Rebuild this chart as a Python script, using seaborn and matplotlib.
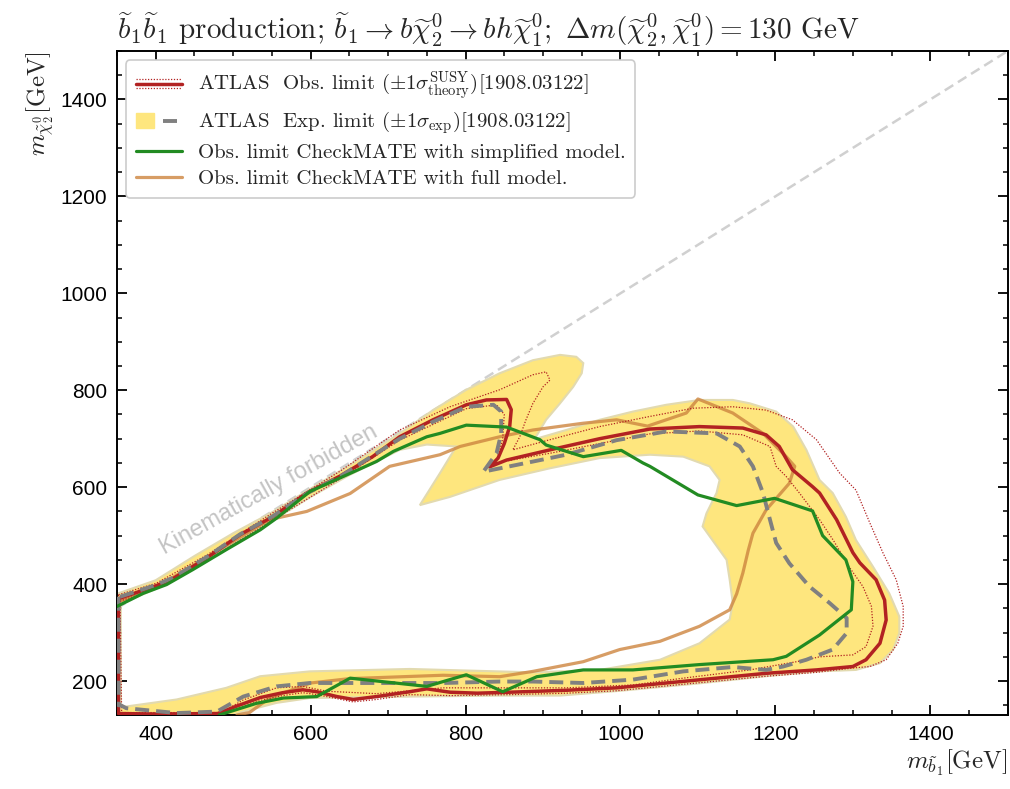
import numpy as np
import pandas as pd
import matplotlib
matplotlib.use("Agg")
import matplotlib.pyplot as plt
import seaborn as sns
from matplotlib.path import Path
from matplotlib.patches import PathPatch, Patch
from matplotlib.lines import Line2D
from matplotlib.legend_handler import HandlerBase, HandlerTuple
from matplotlib.ticker import MultipleLocator

# ---------------- data (GeV) ----------------
# ATLAS observed limit (closed contour)
obs_x = [352, 352, 400, 480, 504, 535, 564, 590, 608, 634, 655, 685, 728, 750, 780, 815, 857, 930, 995,
         1059, 1124, 1188, 1253, 1300, 1317, 1335, 1343, 1341, 1330, 1309, 1300, 1279, 1257, 1248, 1222,
         1205, 1188, 1158, 1102, 1038, 973, 909, 853, 831, 842, 850, 857, 859, 853, 827, 801, 758, 715,
         680, 638, 595, 551, 509, 466, 422, 401, 354, 352]
obs_y = [370, 133, 132, 133, 148, 166, 176, 182, 178, 168, 162, 168, 178, 184, 177, 175, 177, 181, 186,
         196, 206, 216, 223, 230, 244, 278, 326, 367, 409, 444, 465, 533, 588, 601, 636,
         684, 708, 722, 725, 720, 700, 677, 656, 642, 660, 690, 725, 760, 781, 780, 770, 739, 704,
         663, 623, 588, 539, 502, 454, 411, 397, 371, 370]

# ATLAS observed -1 sigma theory (outer dotted)
obs_dn_x = [352, 401, 466, 551, 638, 715, 780, 844, 887, 904, 909, 900, 887, 878, 870, 861, 909, 973,
            1038, 1094, 1145, 1188, 1222, 1253, 1283, 1304, 1322, 1339, 1356, 1365, 1365, 1358, 1343,
            1322, 1300, 1253, 1188, 1124, 1059, 995, 930, 857, 780, 728, 685, 655, 608, 590, 564, 535,
            504, 480, 352, 352]
obs_dn_y = [378, 402, 460, 547, 633, 718, 766, 801, 832, 838, 821, 807, 773, 739, 704, 677, 698, 725,
            746, 763, 766, 759, 739, 698, 629, 594, 526, 464, 409, 354, 313, 278, 244,
            230, 227, 218, 210, 200, 190, 180, 175, 172, 170, 172, 162, 157, 172, 176, 170, 160,
            142, 131, 131, 378]

# ATLAS observed +1 sigma theory (inner dotted)
obs_up_x = [354, 400, 466, 551, 638, 715, 801, 840, 850, 848, 842, 838, 909, 973, 1038, 1102, 1158,
            1193, 1201, 1214, 1231, 1257, 1275, 1295, 1313, 1324, 1326, 1317, 1300, 1257, 1231, 1167,
            1081, 1016, 930, 844, 771, 685, 621, 590, 556, 513, 487, 480, 356, 354]
obs_up_y = [365, 390, 448, 532, 617, 697, 762, 770, 750, 700, 665, 650, 670, 690, 710, 716, 708,
            684, 643, 622, 588, 533, 490, 436, 395, 354, 313, 271, 254, 250, 241, 223,
            206, 192, 186, 186, 186, 174, 179, 189, 186, 161, 137, 135, 135, 365]

# ATLAS expected limit (closed contour)
exp_x = [352, 352, 355, 362, 427, 479, 513, 556, 599, 685, 771, 844, 887, 952, 1016, 1081, 1145, 1188,
         1210, 1240, 1274, 1292, 1292, 1270, 1244, 1218, 1201, 1193, 1184, 1171, 1154, 1124, 1059,
         995, 930, 866, 823, 840, 846, 846, 836, 801, 758, 715, 680, 638, 595, 551, 509, 466, 422,
         400, 354, 352]
exp_y = [374, 150, 150, 144, 134, 137, 168, 189, 196, 196, 196, 199, 199, 196, 203, 220, 229, 223,
         230, 244, 265, 299, 330, 361, 395, 443, 485, 533, 588, 643, 684, 711, 715,
         697, 667, 646, 632, 670, 711, 756, 770, 766, 735, 700, 665, 622, 587, 540, 503, 456, 413,
         398, 374, 374]

# expected +-1 sigma band: outer and inner boundaries
band_out_x = [350, 500, 513, 556, 599, 728, 844, 922, 1000, 1100, 1188, 1257, 1304, 1335, 1352, 1360,
              1360, 1347, 1326, 1304, 1291, 1274, 1257, 1240, 1223, 1201, 1167, 1145, 1102, 1059, 1016,
              973, 930, 889, 904, 922, 939, 950, 952, 943, 922, 887, 844, 801, 758, 715, 650, 600, 550,
              500, 450, 400, 350]
band_out_y = [130, 130, 137, 155, 165, 168, 170, 170, 180, 195, 210, 220, 223, 237, 265, 299,
              333, 381, 436, 491, 539, 588, 615, 677, 725, 756, 773, 780, 780, 770, 756,
              739, 718, 699, 739, 773, 807, 835, 856, 869, 873, 862, 835, 801, 759, 711, 645, 597, 548,
              505, 458, 408, 380]
band_in_x = [355, 427, 491, 535, 599, 728, 887, 973, 1051, 1102, 1141, 1145, 1141, 1137, 1106, 1111,
             1124, 1128, 1115, 1081, 1038, 973, 909, 844, 780, 741, 767, 788, 750, 715, 650, 600, 550,
             500, 450, 400, 355]
band_in_y = [146, 162, 186, 210, 220, 225, 218, 223, 244, 278, 327, 361, 409, 450, 519, 546,
             588, 615, 643, 663, 667, 660, 639, 615, 580, 563, 629, 684, 688, 677, 625, 580, 530,
             483, 435, 390, 360]

# CheckMATE simplified model
cm_simp_x = [350, 384, 414, 448, 491, 535, 556, 599, 642, 685, 707, 750, 767, 801, 853, 896, 904, 952,
             1001, 1029, 1038, 1100, 1150, 1199, 1248, 1261, 1291, 1300, 1298, 1257, 1214, 1197, 1102,
             1016, 952, 922, 892, 848, 801, 750, 651, 608, 565, 530, 504, 482]
cm_simp_y = [354, 381, 399, 430, 471, 512, 536, 591, 622, 653, 674, 704, 711, 728, 724, 698, 687, 663,
             676, 650, 643, 584, 562, 577, 551, 500, 450, 405, 347, 295, 251, 244, 234,
             223, 223, 216, 209, 178, 213, 189, 206, 168, 165, 154, 141, 130]

# CheckMATE full model
cm_full_x = [350, 400, 450, 500, 547, 595, 651, 702, 767, 793, 844, 887, 952, 995, 1035, 1059, 1085,
             1100, 1145, 1184, 1214, 1225, 1218, 1188, 1171, 1165, 1158, 1150, 1141, 1102, 1051, 999,
             952, 887, 844, 771, 650, 600, 547, 521, 505]
cm_full_y = [362, 393, 440, 488, 533, 550, 587, 643, 667, 684, 704, 718, 732, 739, 726, 739, 753,
             782, 753, 711, 663, 643, 608, 553, 505, 470, 423, 380, 347, 313, 282, 265,
             240, 220, 209, 212, 205, 196, 165, 135, 130]

diag_x = [350, 1500]
diag_y = [350, 1500]

# ---------------- style ----------------
sns.set_style("ticks")
plt.rcParams["font.family"] = ["Liberation Sans", "DejaVu Sans"]
plt.rcParams["mathtext.fontset"] = "cm"

RED = "#b22222"
GREY = "#808080"
GREEN = "#228b22"
ORANGE = "#cd853f"
YELLOW = "#fee67e"
YEDGE = "#e2dab0"

fig = plt.figure(figsize=(10.1, 7.89), dpi=100)
ax = fig.add_axes([0.1158, 0.0938, 0.882, 0.8416])

# kinematic diagonal
sns.lineplot(x=diag_x, y=diag_y, ax=ax, color="#d0d0d0", lw=1.8,
             linestyle=(0, (4, 2.2)), sort=False, estimator=None, legend=False, zorder=1)

# yellow band with hole
ox, oy = np.asarray(band_out_x, float), np.asarray(band_out_y, float)
ix, iy = np.asarray(band_in_x, float)[::-1], np.asarray(band_in_y, float)[::-1]
def signed_area(x, y):
    return 0.5 * np.sum(x * np.roll(y, -1) - np.roll(x, -1) * y)
if np.sign(signed_area(ox, oy)) == np.sign(signed_area(ix, iy)):
    ix, iy = ix[::-1], iy[::-1]
verts = np.concatenate([np.column_stack([ox, oy]), [[ox[0], oy[0]]],
                        np.column_stack([ix, iy]), [[ix[0], iy[0]]]])
codes = ([Path.MOVETO] + [Path.LINETO] * (len(ox) - 1) + [Path.CLOSEPOLY] +
         [Path.MOVETO] + [Path.LINETO] * (len(ix) - 1) + [Path.CLOSEPOLY])
band = PathPatch(Path(verts, codes), facecolor=YELLOW, edgecolor=YEDGE, lw=1.5, zorder=2)
ax.add_patch(band)

def line(x, y, **kw):
    sns.lineplot(x=x, y=y, ax=ax, sort=False, estimator=None, legend=False, **kw)

line(cm_full_x, cm_full_y, color=ORANGE, lw=2.3, alpha=0.8, zorder=3)
line(obs_dn_x, obs_dn_y, color=RED, lw=0.9, linestyle=(0, (1, 1.3)), zorder=4)
line(obs_up_x, obs_up_y, color=RED, lw=0.9, linestyle=(0, (1, 1.3)), zorder=4)
line(obs_x, obs_y, color=RED, lw=2.5, zorder=5)
line(exp_x, exp_y, color=GREY, lw=2.8, linestyle=(0, (3.6, 1.8)), zorder=6)
line(cm_simp_x, cm_simp_y, color=GREEN, lw=2.3, zorder=7)

ax.text(546, 594, "Kinematically forbidden", rotation=29, color="#c4c4c4",
        fontsize=17, ha="center", va="center", rotation_mode="anchor", zorder=1)

# axes
ax.set_xlim(350, 1500)
ax.set_ylim(130, 1500)
ax.xaxis.set_major_locator(MultipleLocator(200))
ax.xaxis.set_minor_locator(MultipleLocator(50))
ax.yaxis.set_major_locator(MultipleLocator(200))
ax.yaxis.set_minor_locator(MultipleLocator(50))
ax.set_xticks([400, 600, 800, 1000, 1200, 1400])
ax.set_yticks([200, 400, 600, 800, 1000, 1200, 1400])
ax.tick_params(which="both", direction="in", top=True, right=True, labelsize=15, colors="black")
ax.tick_params(which="major", length=7, width=1.3, pad=7)
ax.tick_params(which="minor", length=3.5, width=1.1)
for s in ax.spines.values():
    s.set_linewidth(1.4)
    s.set_color("black")

ax.set_xlabel(r"$m_{\tilde{b}_1}[\mathrm{GeV}]$", fontsize=18, loc="right", labelpad=3)
ax.set_ylabel(r"$m_{\tilde{\chi}_2^0}[\mathrm{GeV}]$", fontsize=18, loc="top", labelpad=3)

ax.set_title(r"$\widetilde{b}_1\widetilde{b}_1$ production; "
             r"$\widetilde{b}_1\rightarrow b\widetilde{\chi}_2^0\rightarrow bh\widetilde{\chi}_1^0;\ "
             r"\Delta m(\widetilde{\chi}_2^0,\widetilde{\chi}_1^0) = 130$ GeV",
             loc="left", fontsize=21, fontfamily="cmr10", pad=8)

# legend
class HandlerObs(HandlerBase):
    def create_artists(self, legend, orig_handle, xdescent, ydescent, width, height, fontsize, trans):
        y0 = (height - ydescent) / 2
        xs = [-xdescent, width - xdescent]
        arts = [Line2D(xs, [y0, y0], color=RED, lw=2.5, transform=trans)]
        for dy in (0.32 * height, -0.32 * height):
            arts.append(Line2D(xs, [y0 + dy, y0 + dy], color=RED, lw=0.9,
                               linestyle=(0, (1, 1.3)), transform=trans))
        return arts

h_obs = Line2D([], [], color=RED, lw=2.5)
h_exp = (Patch(facecolor=YELLOW, edgecolor=YELLOW),
         Line2D([], [], color=GREY, lw=2.8, linestyle=(0, (3.6, 1.8))))
h_simp = Line2D([], [], color=GREEN, lw=2.3)
h_full = Line2D([], [], color=ORANGE, lw=2.3, alpha=0.8)
labels = [r"ATLAS  Obs. limit ($\pm1\sigma^{\mathrm{SUSY}}_{\mathrm{theory}}$)[1908.03122]",
          r"ATLAS  Exp. limit ($\pm1\sigma_{\mathrm{exp}}$)[1908.03122]",
          "Obs. limit CheckMATE with simplified model.",
          "Obs. limit CheckMATE with full model."]
leg = ax.legend([h_obs, h_exp, h_simp, h_full], labels, loc="upper left",
                handler_map={h_obs: HandlerObs(), tuple: HandlerTuple(ndivide=None)},
                prop={"family": "cmr10", "size": 15}, frameon=True, fancybox=True,
                framealpha=1, edgecolor="#cccccc", handlelength=2.2, handletextpad=0.8,
                labelspacing=0.35, borderaxespad=0.45, borderpad=0.45)
leg.get_frame().set_linewidth(1.2)

fig.savefig("out.png", dpi=100)
